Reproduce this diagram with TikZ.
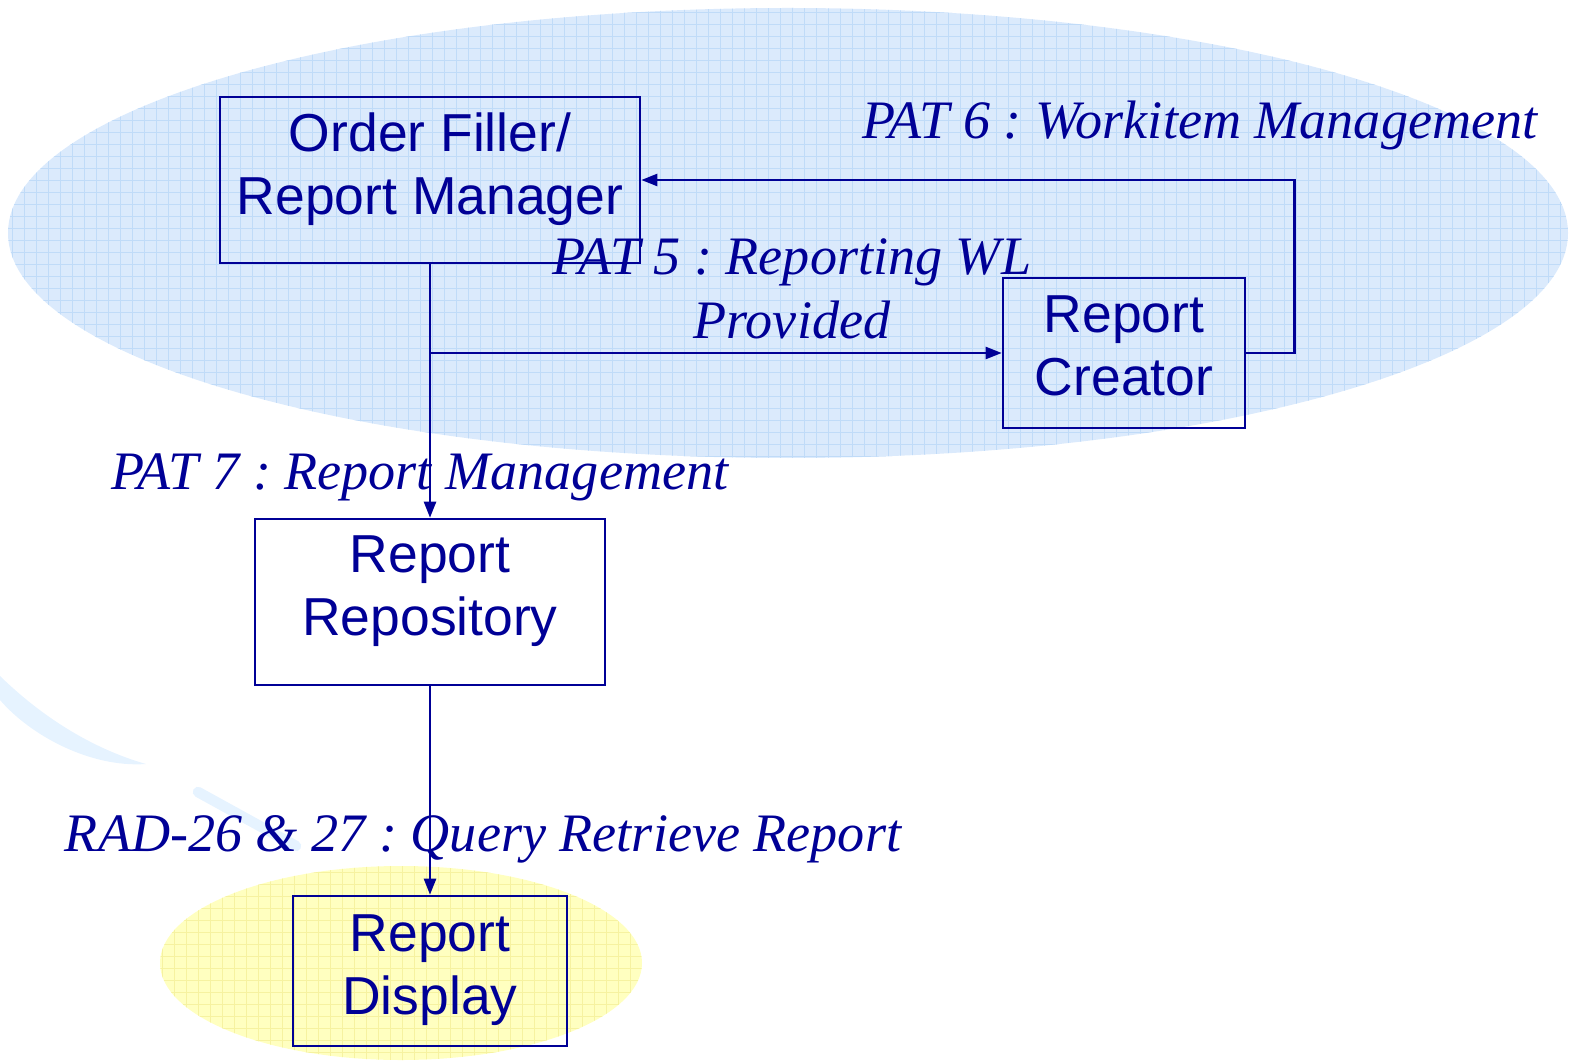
\documentclass[tikz,border=0pt]{standalone}
\usepackage{fontspec}
\setmainfont{Liberation Serif}
\setsansfont{Liberation Sans}
\usetikzlibrary{arrows.meta, calc}
\frenchspacing

\definecolor{navyink}{RGB}{0,0,150}
\definecolor{bluefill}{RGB}{219,234,252}
\definecolor{bluegrid}{RGB}{192,219,248}
\definecolor{yellowfill}{RGB}{255,255,192}
\definecolor{yellowgrid}{RGB}{246,242,160}
\definecolor{swoosh}{RGB}{230,243,255}

\tikzset{
  actor/.style={draw=navyink, line width=0.7pt},
  actortext/.style={text=navyink, align=center, inner sep=0pt,
    font=\sffamily\fontsize{15.2}{18}\selectfont},
  link/.style={draw=navyink, line width=0.7pt, -{Triangle[length=0.16cm,width=0.12cm]}},
  lbl/.style={text=navyink, inner sep=0pt, align=center,
    font=\itshape\fontsize{15.4}{18}\selectfont}
}

\begin{document}
\begin{tikzpicture}[x=0.01cm, y=-0.01cm]
\useasboundingbox (0,0) rectangle (1573,1064);
% Background areas with grid paper
\begin{scope}
  \clip (788,233) ellipse [x radius=780, y radius=225];
  \fill[bluefill] (0,0) rectangle (1573,470);
  \foreach \x in {0,12,...,1572} \draw[bluegrid, line width=0.25pt] (\x,0) -- (\x,470);
  \foreach \y in {0,12,...,468} \draw[bluegrid, line width=0.25pt] (0,\y) -- (1573,\y);
\end{scope}
\begin{scope}
  \clip (401,963) ellipse [x radius=241, y radius=97];
  \fill[yellowfill] (150,860) rectangle (650,1064);
  \foreach \x in {150,162,...,650} \draw[yellowgrid, line width=0.25pt] (\x,860) -- (\x,1064);
  \foreach \y in {860,872,...,1064} \draw[yellowgrid, line width=0.25pt] (150,\y) -- (650,\y);
\end{scope}
% Faint swooshes at the left
\fill[swoosh] (0,676) .. controls (40,715) and (90,748) .. (146,764)
  .. controls (90,768) and (30,735) .. (0,700) -- cycle;
\draw[swoosh, line width=3pt, line cap=round] (198,792) -- (296,846);

% Actors
\node[actor, minimum width=4.2cm, minimum height=1.66cm,
  label={[actortext, yshift=0.11cm]center:{Order Filler/\\Report Manager}}] (filler) at (430,180) {};
\node[actor, minimum width=2.42cm, minimum height=1.5cm,
  label={[actortext, yshift=0.07cm]center:{Report\\Creator}}] (creator) at (1124,353) {};
\node[actor, minimum width=3.5cm, minimum height=1.66cm,
  label={[actortext, yshift=0.11cm]center:{Report\\Repository}}] (repo) at (430,602) {};
\node[actor, minimum width=2.74cm, minimum height=1.5cm,
  label={[actortext, yshift=0.01cm]center:{Report\\Display}}] (display) at (430,971) {};

% Transactions
\coordinate (split) at (filler.south |- creator.west);
\draw[link] (filler.south) -- (repo.north);
\draw[link] (split) -- (creator.west);
\draw[link] (creator.east) -- ++(48,0) |- (filler.east);
\draw[link] (repo.south) -- (display.north);

% Labels
\node[lbl] (pat6) at (1200,125) {PAT 6 : Workitem Management};
\node[lbl] (pat5) at (792,289) {PAT 5 : Reporting WL\\Provided};
\node[lbl] (pat7) at (420,477) {PAT 7 : Report Management};
\node[lbl] (rad) at (483,839) {RAD-26 \& 27 : Query Retrieve Report};
\end{tikzpicture}
\end{document}
